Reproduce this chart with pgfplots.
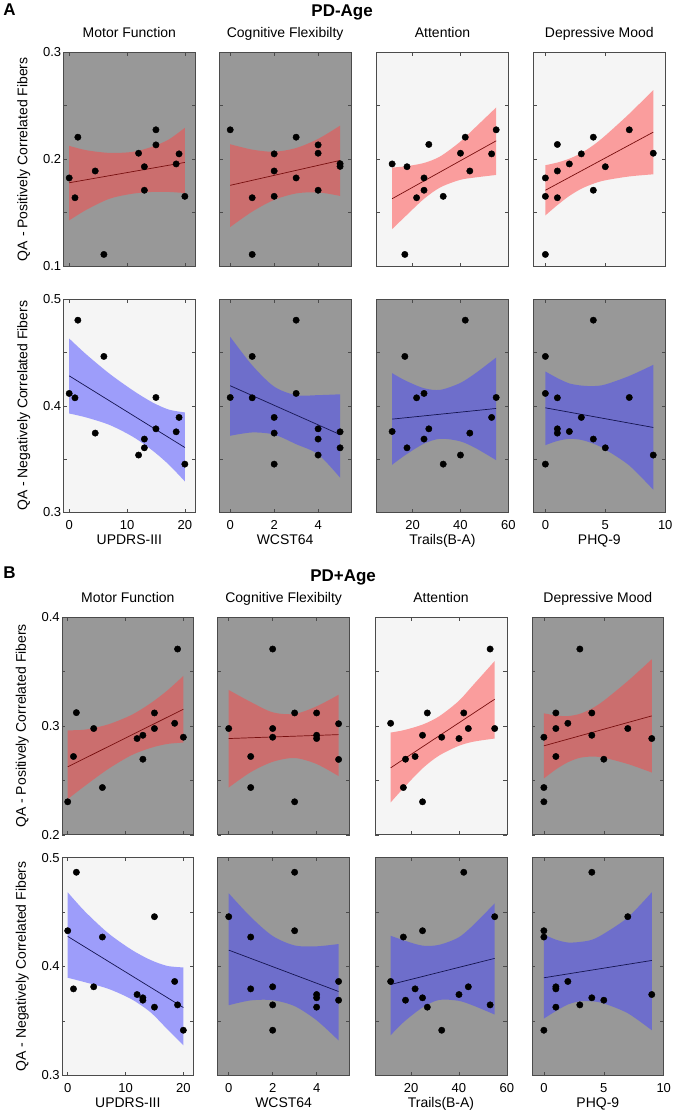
\documentclass[border=0pt]{standalone}
\usepackage{fontspec}
\setmainfont{Liberation Sans}
\usepackage{pgfplots}
\pgfplotsset{compat=1.18}
\usepgfplotslibrary{fillbetween}

\definecolor{graybg}{RGB}{152,152,152}
\definecolor{lightbg}{RGB}{245,245,245}
\definecolor{bandR}{RGB}{255,70,70}
\definecolor{bandB}{RGB}{70,70,255}
\definecolor{lineR}{RGB}{120,15,15}
\definecolor{lineB}{RGB}{20,20,80}
\definecolor{axiscol}{RGB}{75,75,75}

\newcommand{\tickfont}{\fontsize{13}{13}\selectfont}
\newcommand{\labfont}{\fontsize{14}{14}\selectfont}

\pgfplotsset{
  base/.style={scale only axis, width=132pt, anchor=north west,
    tick align=inside, major tick length=3.5pt,
    axis line style={draw=axiscol, line width=0.6pt},
    every tick/.style={draw=axiscol, line width=0.5pt},
    tick label style={font=\tickfont},
    /pgf/number format/assume math mode=true,
    xticklabel style={anchor=base, yshift=-17pt},
    yticklabel style={anchor=east, inner sep=1pt, xshift=-1pt},
    title style={at={(0.5,1)}, anchor=base, yshift=9pt, font=\labfont},
    xlabel style={at={(0.5,0)}, anchor=base, yshift=-32.5pt, font=\labfont},
    ylabel style={at={(axis description cs:-0.2727,0.5)}, anchor=base, font=\labfont},
    clip=true},
  gbg/.style={axis background/.style={fill=graybg}},
  lbg/.style={axis background/.style={fill=lightbg}},
  c1/.style={xmin=-1,xmax=21.8,xtick={0,10,20}},
  c2/.style={xmin=-0.5,xmax=5.5,xtick={0,2,4}},
  c3/.style={xmin=5,xmax=60,xtick={20,40,60}},
  c4/.style={xmin=-1,xmax=10,xtick={0,5,10}},
  r1/.style={ymin=0.1,ymax=0.3,ytick={0.1,0.15,0.2,0.25,0.3},height=214.2pt,xticklabels={}},
  r2/.style={ymin=0.3,ymax=0.5,ytick={0.3,0.35,0.4,0.45,0.5},height=213.5pt},
  r3/.style={ymin=0.2,ymax=0.4,ytick={0.2,0.25,0.3,0.35,0.4},height=218pt,xticklabels={}},
  r4/.style={ymin=0.3,ymax=0.5,ytick={0.3,0.35,0.4,0.45,0.5},height=218pt},
  noy/.style={yticklabels={}},
}

\newcommand{\pts}[1]{\addplot[only marks, mark=*, mark size=3.2pt, draw=black, fill=black] coordinates {#1};}
\newcommand{\fit}[2]{\addplot[#1, line width=0.7pt] coordinates {#2};}
\newcommand{\band}[4]{%
  \addplot[name path=#1u, draw=none, smooth] coordinates {#3};
  \addplot[name path=#1l, draw=none, smooth] coordinates {#4};
  \addplot[fill=#2, fill opacity=0.5, draw=none] fill between[of=#1u and #1l];}

\begin{document}
\begin{tikzpicture}

\node[font=\bfseries\fontsize{17}{17}\selectfont] at (9pt,-10pt) {A};
\node[font=\bfseries\fontsize{17}{17}\selectfont] at (342pt,-12.7pt) {PD-Age};
\node[font=\bfseries\fontsize{17}{17}\selectfont] at (9pt,-573pt) {B};
\node[font=\bfseries\fontsize{17}{17}\selectfont] at (343pt,-578pt) {PD+Age};

% ---------------- Row 1 ----------------
\begin{axis}[base,gbg,c1,r1,at={(63pt,-52.3pt)},title={Motor Function},
  yticklabels={0.1,{},0.2,{},0.3},ylabel={QA - Positively Correlated Fibers}]
\band{pa}{bandR}{(0,0.2125) (3,0.2084) (7,0.2059) (11,0.2069) (14.3,0.2116) (17.2,0.2184) (20,0.2294)}{(0,0.1428) (3,0.1528) (7,0.1631) (11,0.1678) (14.3,0.1694) (17.2,0.1694) (20,0.1684)}
\fit{lineR}{(0,0.178) (20,0.197)}
\pts{(0,0.1825) (1,0.164) (1.5,0.2206) (4.5,0.189) (6,0.111) (12,0.2056) (13,0.193) (13,0.171) (15,0.2275) (15,0.2134) (18.5,0.1956) (19,0.205) (20,0.1653)}
\end{axis}

\begin{axis}[base,gbg,c2,r1,noy,at={(219pt,-52.3pt)},title={Cognitive Flexibilty}]
\band{pb}{bandR}{(0,0.214) (1,0.209) (2,0.207) (3,0.2105) (4,0.219) (5,0.2314)}{(0,0.1366) (1,0.151) (2,0.162) (3,0.168) (4,0.169) (5,0.1657)}
\fit{lineR}{(0,0.1756) (5,0.1989)}
\pts{(0,0.2275) (1,0.164) (1,0.111) (2,0.205) (2,0.189) (2,0.1653) (3,0.2206) (3,0.1825) (4,0.2134) (4,0.2056) (4,0.171) (5,0.1958) (5,0.1933)}
\end{axis}

\begin{axis}[base,lbg,c3,r1,noy,at={(376.5pt,-52.3pt)},title={Attention}]
\band{pc}{bandR}{(11.5,0.1922) (17.2,0.1934) (24.8,0.1965) (31.6,0.2027) (39.7,0.216) (46,0.2293) (54.9,0.2484)}{(11.5,0.1347) (17.2,0.147) (24.8,0.163) (31.6,0.1737) (39.7,0.1806) (46,0.1829) (54.9,0.1853)}
\fit{lineR}{(11.5,0.1631) (54.9,0.2172)}
\pts{(11.5,0.1956) (16.8,0.111) (17.7,0.193) (21.7,0.164) (24.8,0.1825) (24.8,0.171) (26.8,0.2138) (32.8,0.1653) (40,0.2056) (42,0.2206) (43.9,0.189) (53,0.205) (54.9,0.2275)}
\end{axis}

\begin{axis}[base,lbg,c4,r1,noy,at={(533.5pt,-52.3pt)},title={Depressive Mood}]
\band{pd}{bandR}{(0,0.1944) (1,0.1969) (2,0.2005) (3,0.2058) (4,0.2131) (5,0.2221) (7,0.2425) (9,0.2647)}{(0,0.1475) (1,0.1571) (2,0.1657) (3,0.1724) (4,0.1771) (5,0.1803) (7,0.1839) (9,0.1859)}
\fit{lineR}{(0,0.171) (9,0.2253)}
\pts{(0,0.1825) (0,0.1653) (0,0.111) (1,0.2138) (1,0.189) (1,0.164) (2,0.1956) (3,0.205) (4,0.2206) (4,0.171) (5,0.193) (7,0.2275) (9,0.2056)}
\end{axis}

% ---------------- Row 2 ----------------
\begin{axis}[base,lbg,c1,r2,at={(63pt,-299.5pt)},xlabel={UPDRS-III},
  yticklabels={0.3,{},0.4,{},0.5},ylabel={QA - Negatively Correlated Fibers}]
\band{pe}{bandB}{(0,0.4631) (3,0.448) (7,0.430) (11,0.4145) (14.3,0.4035) (17.2,0.3965) (20,0.3938)}{(0,0.3928) (3,0.389) (7,0.382) (11,0.371) (14.3,0.3585) (17.2,0.345) (20,0.3291)}
\fit{lineB}{(0,0.4281) (20,0.3609)}
\pts{(0,0.4116) (1,0.4075) (1.5,0.4803) (4.5,0.3744) (6,0.4463) (12,0.3538) (13,0.3688) (13,0.3606) (15,0.4078) (15,0.3784) (18.5,0.3756) (19,0.3891) (20,0.3453)}
\end{axis}

\begin{axis}[base,gbg,c2,r2,noy,at={(219pt,-299.5pt)},xlabel={WCST64}]
\band{pf}{bandB}{(0,0.4647) (1,0.438) (2,0.418) (3,0.410) (4,0.410) (5,0.4108)}{(0,0.3719) (1,0.375) (2,0.373) (3,0.364) (4,0.3545) (5,0.3326)}
\fit{lineB}{(0,0.4188) (5,0.373)}
\pts{(0,0.4078) (1,0.4463) (1,0.4075) (2,0.3891) (2,0.3744) (2,0.3453) (3,0.4803) (3,0.4116) (4,0.3784) (4,0.3688) (4,0.3538) (5,0.3756) (5,0.3606)}
\end{axis}

\begin{axis}[base,gbg,c3,r2,noy,at={(376.5pt,-299.5pt)},xlabel={Trails(B-A)}]
\band{pg}{bandB}{(11.5,0.4306) (17.2,0.4235) (24.8,0.4165) (31.6,0.415) (39.7,0.4212) (46,0.4301) (54.9,0.4453)}{(11.5,0.3447) (17.2,0.3541) (24.8,0.3645) (31.6,0.3691) (39.7,0.3668) (46,0.3607) (54.9,0.349)}
\fit{lineB}{(11.5,0.3875) (54.9,0.3975)}
\pts{(11.5,0.3759) (16.8,0.4463) (17.7,0.3606) (21.7,0.4075) (24.8,0.4116) (24.8,0.3688) (26.8,0.3784) (32.8,0.3453) (40,0.3538) (42,0.4803) (43.9,0.3744) (53,0.3891) (54.9,0.4078)}
\end{axis}

\begin{axis}[base,gbg,c4,r2,noy,at={(533.5pt,-299.5pt)},xlabel={PHQ-9}]
\band{ph}{bandB}{(0,0.4322) (1,0.426) (2,0.421) (3,0.419) (4,0.4185) (5,0.42) (7,0.428) (9,0.4384)}{(0,0.3631) (1,0.367) (2,0.369) (3,0.368) (4,0.3645) (5,0.359) (7,0.344) (9,0.3213)}
\fit{lineB}{(0,0.3981) (9,0.3797)}
\pts{(0,0.4463) (0,0.4116) (0,0.3453) (1,0.4075) (1,0.3784) (1,0.3744) (2,0.3759) (3,0.3891) (4,0.4803) (4,0.3688) (5,0.3606) (7,0.4078) (9,0.3538)}
\end{axis}

% ---------------- Row 3 ----------------
\begin{axis}[base,gbg,c1,r3,at={(61.5pt,-617.7pt)},title={Motor Function},
  yticklabels={0.2,{},0.3,{},0.4},ylabel={QA - Positively Correlated Fibers}]
\band{pi}{bandR}{(0,0.296) (3,0.2966) (7,0.3014) (11,0.31) (14.3,0.3207) (17.2,0.3324) (20,0.3459)}{(0,0.2327) (3,0.245) (7,0.2604) (11,0.273) (14.3,0.2797) (17.2,0.2834) (20,0.2847)}
\fit{lineR}{(0,0.2624) (20,0.3153)}
\pts{(0,0.2303) (1,0.2719) (1.5,0.3122) (4.5,0.2976) (6,0.2434) (12,0.2884) (13,0.2914) (13,0.2694) (15,0.3119) (15,0.2976) (18.5,0.3024) (19,0.3706) (20,0.2896)}
\end{axis}

\begin{axis}[base,gbg,c2,r3,noy,at={(217.5pt,-617.7pt)},title={Cognitive Flexibilty}]
\band{pj}{bandR}{(0,0.333) (1,0.322) (2,0.3125) (3,0.311) (4,0.318) (5,0.3286)}{(0,0.2434) (1,0.2575) (2,0.267) (3,0.2705) (4,0.265) (5,0.2539)}
\fit{lineR}{(0,0.2884) (5,0.292)}
\pts{(0,0.2976) (1,0.2719) (1,0.2434) (2,0.3706) (2,0.2976) (2,0.2896) (3,0.3119) (3,0.2303) (4,0.3119) (4,0.2914) (4,0.2884) (5,0.302) (5,0.2692)}
\end{axis}

\begin{axis}[base,lbg,c3,r3,noy,at={(375pt,-617.7pt)},title={Attention}]
\band{pk}{bandR}{(11.5,0.2939) (17.2,0.2962) (24.8,0.3012) (31.6,0.3086) (39.7,0.3225) (46,0.3377) (54.9,0.3596)}{(11.5,0.2297) (17.2,0.2437) (24.8,0.261) (31.6,0.2726) (39.7,0.2815) (46,0.2855) (54.9,0.2884)}
\fit{lineR}{(11.5,0.2615) (54.9,0.3245)}
\pts{(11.5,0.3024) (16.8,0.2434) (17.7,0.2694) (21.7,0.2719) (24.8,0.2303) (24.8,0.2914) (26.8,0.3119) (32.8,0.2896) (40,0.2884) (42,0.3119) (43.9,0.2976) (53,0.3706) (54.9,0.2976)}
\end{axis}

\begin{axis}[base,gbg,c4,r3,noy,at={(532pt,-617.7pt)},title={Depressive Mood}]
\band{pl}{bandR}{(0,0.3116) (1,0.3096) (2,0.309) (3,0.3111) (4,0.316) (5,0.3232) (7,0.3412) (9,0.3612)}{(0,0.2517) (1,0.26) (2,0.2666) (3,0.2707) (4,0.2718) (5,0.2708) (7,0.265) (9,0.2572)}
\fit{lineR}{(0,0.2817) (9,0.3092)}
\pts{(0,0.2896) (0,0.2434) (0,0.2303) (1,0.3119) (1,0.2976) (1,0.2719) (2,0.3024) (3,0.3706) (4,0.3119) (4,0.2914) (5,0.2694) (7,0.2976) (9,0.2884)}
\end{axis}

% ---------------- Row 4 ----------------
\begin{axis}[base,lbg,c1,r4,at={(61.5pt,-858.5pt)},xlabel={UPDRS-III},
  yticklabels={0.3,{},0.4,{},0.5},ylabel={QA - Negatively Correlated Fibers}]
\band{pm}{bandB}{(0,0.4681) (3,0.4504) (7,0.4306) (11,0.4155) (14.3,0.406) (17.2,0.4005) (20,0.3991)}{(0,0.3896) (3,0.3855) (7,0.3795) (11,0.37) (14.3,0.358) (17.2,0.3425) (20,0.3276)}
\fit{lineB}{(0,0.4276) (20,0.3623)}
\pts{(0,0.4328) (1,0.3794) (1.5,0.4865) (4.5,0.3813) (6,0.427) (12,0.3742) (13,0.3712) (13,0.369) (15,0.4457) (15,0.3626) (18.5,0.3862) (19,0.3647) (20,0.3414)}
\end{axis}

\begin{axis}[base,gbg,c2,r4,noy,at={(217.5pt,-858.5pt)},xlabel={WCST64}]
\band{pn}{bandB}{(0,0.4672) (1,0.4455) (2,0.428) (3,0.4193) (4,0.4185) (5,0.4206)}{(0,0.3644) (1,0.3688) (2,0.369) (3,0.3635) (4,0.3505) (5,0.332)}
\fit{lineB}{(0,0.415) (5,0.377)}
\pts{(0,0.4457) (1,0.427) (1,0.3794) (2,0.3813) (2,0.3647) (2,0.3414) (3,0.4865) (3,0.4328) (4,0.3742) (4,0.3712) (4,0.3626) (5,0.3862) (5,0.369)}
\end{axis}

\begin{axis}[base,gbg,c3,r4,noy,at={(375pt,-858.5pt)},xlabel={Trails(B-A)}]
\band{po}{bandB}{(11.5,0.4282) (17.2,0.4238) (24.8,0.4191) (31.6,0.4198) (39.7,0.4265) (46,0.438) (54.9,0.458)}{(11.5,0.3368) (17.2,0.3494) (24.8,0.3623) (31.6,0.3692) (39.7,0.3685) (46,0.364) (54.9,0.3558)}
\fit{lineB}{(11.5,0.3834) (54.9,0.4074)}
\pts{(11.5,0.3862) (16.8,0.427) (17.7,0.369) (21.7,0.3794) (24.8,0.4328) (24.8,0.3712) (26.8,0.3626) (32.8,0.3414) (40,0.3742) (42,0.4865) (43.9,0.3813) (53,0.3647) (54.9,0.4457)}
\end{axis}

\begin{axis}[base,gbg,c4,r4,noy,at={(532pt,-858.5pt)},xlabel={PHQ-9}]
\band{pp}{bandB}{(0,0.4294) (1,0.4246) (2,0.422) (3,0.4225) (4,0.4245) (5,0.43) (7,0.445) (9,0.4681)}{(0,0.3521) (1,0.359) (2,0.365) (3,0.368) (4,0.368) (5,0.366) (7,0.357) (9,0.3414)}
\fit{lineB}{(0,0.3896) (9,0.4055)}
\pts{(0,0.4328) (0,0.427) (0,0.3414) (1,0.3813) (1,0.3794) (1,0.3626) (2,0.3862) (3,0.3647) (4,0.4865) (4,0.3712) (5,0.369) (7,0.4457) (9,0.3742)}
\end{axis}

\path (0pt,0pt) rectangle (677pt,-1114pt);
\end{tikzpicture}
\end{document}
